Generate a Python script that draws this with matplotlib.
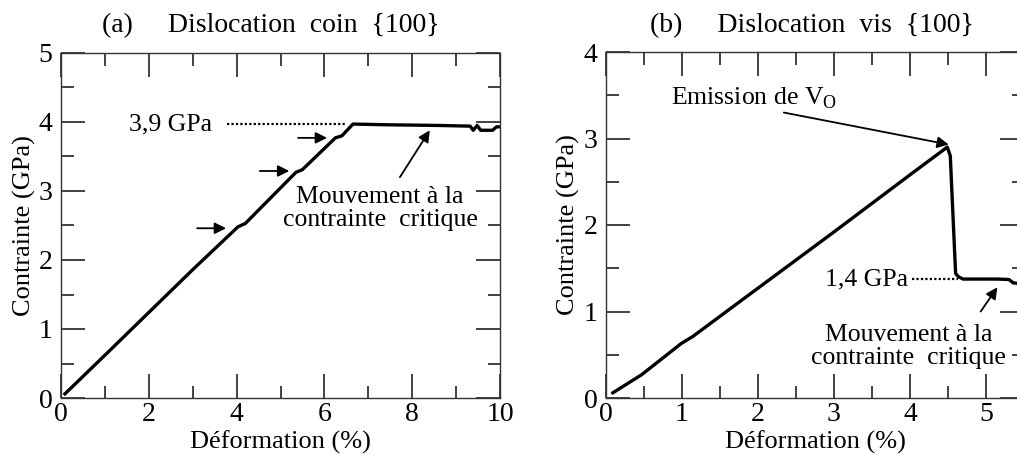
import matplotlib
matplotlib.use("Agg")
import matplotlib.pyplot as plt
import matplotlib.ticker as ticker

plt.rcParams.update({
    "font.family": ["Liberation Serif", "DejaVu Serif"],
    "font.size": 18,
    "axes.linewidth": 1.0,
    "axes.edgecolor": "#333333",
    "xtick.direction": "in",
    "ytick.direction": "in",
    "xtick.top": True,
    "ytick.right": True,
    "xtick.major.size": 17,
    "ytick.major.size": 17,
    "xtick.minor.size": 9,
    "ytick.minor.size": 9,
    "xtick.major.width": 1.3,
    "ytick.major.width": 1.3,
    "xtick.minor.width": 1.3,
    "ytick.minor.width": 1.3,
    "xtick.color": "#333333",
    "ytick.color": "#333333",
    "xtick.labelcolor": "black",
    "ytick.labelcolor": "black",
    "xtick.labelsize": 20,
    "ytick.labelsize": 20,
})

# (a) edge dislocation {100}: strain (%) / stress (GPa)
edge_strain = [0.09, 1.0, 2.0, 3.0, 4.03, 4.2, 5.35, 5.5, 6.25, 6.4, 6.65,
               7.4, 8.6, 9.32, 9.39, 9.48, 9.56, 9.83, 9.92, 10.0]
edge_stress = [0.06, 0.62, 1.24, 1.86, 2.48, 2.53, 3.27, 3.31, 3.77, 3.80, 3.97,
               3.96, 3.95, 3.94, 3.88, 3.95, 3.88, 3.88, 3.93, 3.93]
edge_critical = 3.97          # "3,9 GPa" level
edge_markers_y = [2.46, 3.29, 3.77]
edge_markers_x = [(3.1, 3.76), (4.53, 5.2), (5.4, 6.06)]

# (b) screw dislocation {100}
screw_strain = [0.09, 0.47, 0.99, 1.14, 2.0, 3.0, 4.0, 4.49, 4.53, 4.6, 4.64,
                4.70, 5.15, 5.30, 5.36, 5.5]
screw_stress = [0.06, 0.27, 0.63, 0.71, 1.27, 1.92, 2.58, 2.90, 2.80, 1.44, 1.40,
                1.375, 1.375, 1.37, 1.33, 1.32]
screw_peak = (4.49, 2.90)
screw_critical = 1.375        # "1,4 GPa" level

W, H = 1017, 457
fig = plt.figure(figsize=(W / 100, H / 100), dpi=100)


def px_box(left, right, top, bottom):
    return [left / W, 1 - bottom / H, (right - left) / W, (bottom - top) / H]


arrow_kw = dict(arrowstyle="-|>", color="black", lw=1.3, mutation_scale=17,
                shrinkA=0, shrinkB=0)
NOTE_FS = 18.5


def style_axes(a, xmajor, ymajor, ylabel_x):
    a.xaxis.set_major_locator(ticker.MultipleLocator(xmajor))
    a.xaxis.set_minor_locator(ticker.MultipleLocator(xmajor / 2))
    a.yaxis.set_major_locator(ticker.MultipleLocator(ymajor))
    a.yaxis.set_minor_locator(ticker.MultipleLocator(ymajor / 2))
    a.tick_params(axis="x", which="both", pad=3)
    a.tick_params(axis="y", which="both", pad=6)
    a.set_xlabel("Déformation (%)", fontsize=19)
    a.set_ylabel("Contrainte (GPa)", fontsize=19)
    a.xaxis.set_label_coords(0.5, -0.094)
    a.yaxis.set_label_coords(ylabel_x, 0.5)


# ── panel (a) ────────────────────────────────────────────────────────────────
ax = fig.add_axes(px_box(61, 500, 53, 398))
ax.plot(edge_strain, edge_stress, color="black", lw=2.4, solid_joinstyle="round")
ax.set_xlim(0, 10)
ax.set_ylim(0, 5)
style_axes(ax, 2, 1, -0.057)

ax.plot([3.78, 6.5], [edge_critical, edge_critical], color="black", lw=1.6,
        ls=(0, (1, 1)))
ax.text(3.45, edge_critical, "3,9 GPa", fontsize=NOTE_FS, ha="right", va="center")
for (x0, x1), y in zip(edge_markers_x, edge_markers_y):
    ax.annotate("", xy=(x1, y), xytext=(x0, y), arrowprops=arrow_kw)
ax.annotate("", xy=(8.4, 3.88), xytext=(7.72, 3.2), arrowprops=arrow_kw)
ax.text(7.27, 2.75, "Mouvement à la\ncontrainte  critique", fontsize=NOTE_FS,
        ha="center", va="center", linespacing=1.05)

fig.text(271 / W, 1 - 32 / H, "(a)     Dislocation  coin  {100}", fontsize=20,
         ha="center", va="baseline")

# ── panel (b) ────────────────────────────────────────────────────────────────
bx = fig.add_axes(px_box(606, 1024, 52, 398))
bx.plot(screw_strain, screw_stress, color="black", lw=2.4, solid_joinstyle="round")
bx.set_xlim(0, 5.5)
bx.set_ylim(0, 4)
style_axes(bx, 1, 1, -0.062)

bx.plot([4.02, 4.63], [screw_critical, screw_critical], color="black", lw=1.6,
        ls=(0, (1, 1)))
bx.text(3.98, screw_critical, "1,4 GPa", fontsize=NOTE_FS, ha="right", va="center")
bx.text(0.86, 3.47, r"Emission de V$_\mathregular{O}$", fontsize=NOTE_FS,
        ha="left", va="center")
bx.annotate("", xy=(screw_peak[0] + 0.02, screw_peak[1] + 0.03),
            xytext=(2.34, 3.3), arrowprops=arrow_kw)
bx.annotate("", xy=(5.15, 1.28), xytext=(4.93, 1.0), arrowprops=arrow_kw)
bx.text(3.98, 0.6, "Mouvement à la\ncontrainte  critique", fontsize=NOTE_FS,
        ha="center", va="center", linespacing=1.05)

fig.text(812 / W, 1 - 32 / H, "(b)     Dislocation  vis  {100}", fontsize=20,
         ha="center", va="baseline")

fig.savefig("out.png", dpi=100)
